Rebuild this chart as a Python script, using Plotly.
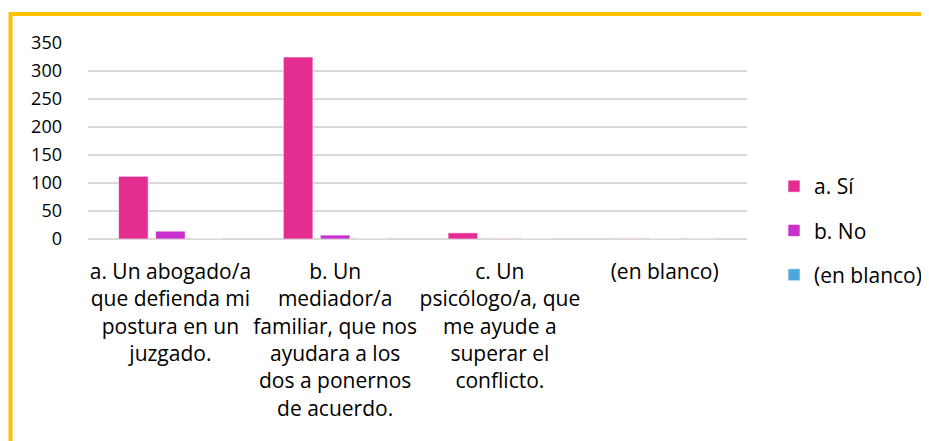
import plotly.graph_objects as go

categories = [
    "a. Un abogado/a<br>que defienda mi<br>postura en un<br>juzgado.",
    "b. Un<br>mediador/a<br>familiar, que nos<br>ayudara a los<br>dos a ponernos<br>de acuerdo.",
    "c. Un<br>psicólogo/a, que<br>me ayude a<br>superar el<br>conflicto.",
    "(en blanco)",
]
series_names = ["a. Sí", "b. No", "(en blanco)"]
si_values = [112, 325, 11, 1]
no_values = [14, 7, 1, 0]
blanco_values = [0, 0, 0, 1]
y_ticks = [0, 50, 100, 150, 200, 250, 300, 350]

colors = ["#E32D91", "#C830CC", "#4EA6DC"]
FONT = "Open Sans"

fig = go.Figure()
for i, (name, vals) in enumerate(zip(series_names, [si_values, no_values, blanco_values])):
    fig.add_trace(go.Bar(
        x=categories, y=vals, name=name,
        marker=dict(color=colors[i], line=dict(color="rgba(255,255,255,0.6)", width=1)),
        legendgroup=f"g{i}",
    ))

# page body has an 8px margin; figure coordinates = reference - 8
W, H = 921, 433
L, R, T, B = 80, 182, 35, 202
pw, ph = W - L - R, H - T - B

def px_x(px):
    return (px - L) / pw

def px_y(py):
    return (H - B - py) / ph

fig.update_layout(
    width=W, height=H,
    margin=dict(l=L, r=R, t=T, b=B, autoexpand=False),
    paper_bgcolor="white", plot_bgcolor="white",
    font=dict(family=FONT, size=21, color="#000000"),
    barmode="group", bargap=0.326, bargroupgap=0.2,
    showlegend=True,
    legend=dict(
        x=px_x(766), y=px_y(158), xanchor="left", yanchor="top",
        traceorder="grouped", tracegroupgap=14,
        font=dict(family=FONT, size=21, color="#000000"),
        itemwidth=30,
    ),
    xaxis=dict(
        showgrid=False, showline=False, ticks="", tickangle=0,
        ticklabelstandoff=18, automargin=False,
        tickfont=dict(family=FONT, size=21, color="#000000"),
    ),
    yaxis=dict(
        range=[0, 350], tickvals=y_ticks, showgrid=True,
        gridcolor="#D9D9D9", gridwidth=1.5,
        zeroline=True, zerolinecolor="#D9D9D9", zerolinewidth=1.5,
        showline=False, ticks="", ticklabelstandoff=25, automargin=False,
        tickfont=dict(family=FONT, size=18, color="#000000"),
    ),
    shapes=[dict(
        type="rect", xref="paper", yref="paper",
        x0=px_x(2.5), y0=px_y(470), x1=px_x(960), y1=px_y(6),
        line=dict(color="#FFC000", width=4), fillcolor="rgba(0,0,0,0)",
        layer="above",
    )],
)

fig.write_html("out.html")
